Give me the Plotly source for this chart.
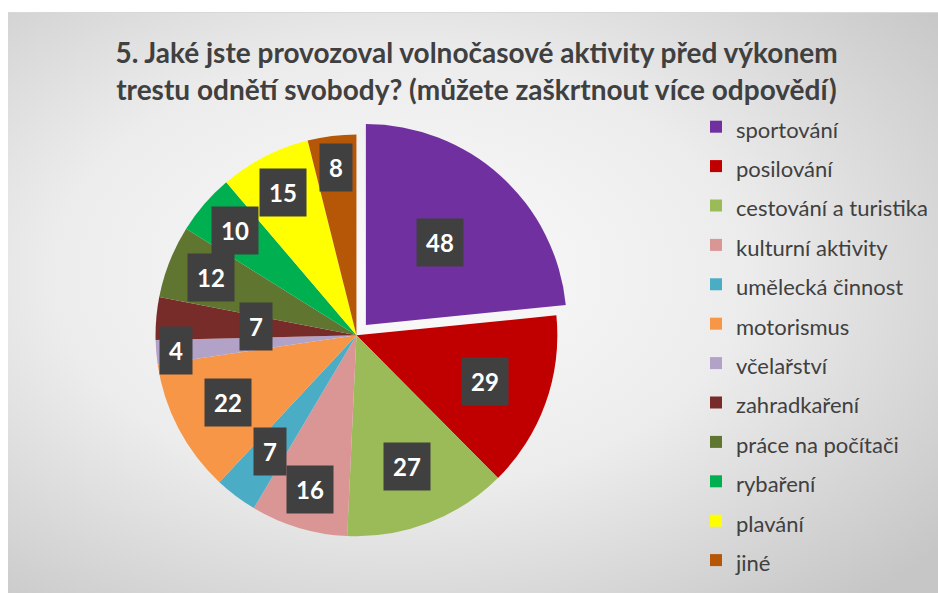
import math
import base64
import plotly.graph_objects as go

# ---------------- data ----------------
categories = [
    "sportování", "posilování", "cestování a turistika", "kulturní aktivity",
    "umělecká činnost", "motorismus", "včelařství", "zahradkaření",
    "práce na počítači", "rybaření", "plavání", "jiné",
]
counts = [48, 29, 27, 16, 7, 22, 4, 7, 12, 10, 15, 8]
title_text = ("5. Jaké jste provozoval volnočasové aktivity před výkonem<br>"
              "trestu odnětí svobody? (můžete zaškrtnout více odpovědí)")

# ---------------- style ----------------
colors = ["#7030A0", "#C00000", "#9BBB59", "#DA9694", "#4BACC6", "#F79646",
          "#B3A2C7", "#772C2A", "#5F7530", "#00B050", "#FFFF00", "#B65708"]
pulls = [0.07] + [0] * (len(counts) - 1)
label_radius = [0.55, 0.68, 0.7, 0.8, 0.72, 0.72, 0.9, 0.5, 0.78, 0.8, 0.8, 0.84]

W, H = 938, 593
dom_x = [0.145, 0.615]
dom_y = [0.072, 0.797]

# background panel with a soft radial gradient
svg = (
    f'<svg xmlns="http://www.w3.org/2000/svg" width="{W}" height="{H}" viewBox="0 0 {W} {H}" '
    f'preserveAspectRatio="none">'
    '<defs><radialGradient id="g" cx="0.42" cy="0.45" r="0.75">'
    '<stop offset="0" stop-color="#fbfbfb"/>'
    '<stop offset="0.5" stop-color="#ececec"/>'
    '<stop offset="1" stop-color="#c6c6c6"/>'
    '</radialGradient></defs>'
    f'<rect x="8" y="12" width="{W - 8}" height="{H - 12}" fill="url(#g)"/>'
    f'<line x1="8" y1="12.5" x2="{W}" y2="12.5" stroke="#d8d8d8" stroke-width="1"/>'
    '</svg>'
)
bg_src = "data:image/svg+xml;base64," + base64.b64encode(svg.encode("utf-8")).decode()

fig = go.Figure()
fig.add_trace(go.Pie(
    labels=[f'<span style="font-size:22px">{c}</span>' for c in categories],
    values=counts,
    sort=False,
    direction="clockwise",
    rotation=0,
    pull=pulls,
    marker=dict(colors=colors, line=dict(width=0)),
    textinfo="none",
    hovertemplate="%{label}: %{value}<extra></extra>",
    domain=dict(x=dom_x, y=dom_y),
))

# value labels: placed at each slice's mid-angle, using the same geometry Plotly uses
box_w = W * (dom_x[1] - dom_x[0])
box_h = H * (dom_y[1] - dom_y[0])
r = min(box_w, box_h) / (2 + 2 * max(pulls))
cx = W * (dom_x[0] + dom_x[1]) / 2
cy = H * (1 - dom_y[0]) - box_h / 2
total = sum(counts)
cum = 0.0
annotations = []
for i, v in enumerate(counts):
    mid = (cum + v / 2) / total * 2 * math.pi
    cum += v
    rr = r * (label_radius[i] + pulls[i])
    px = cx + rr * math.sin(mid)
    py = cy - rr * math.cos(mid)
    annotations.append(dict(
        x=px / W, y=1 - py / H, xref="paper", yref="paper",
        text=f"<b>{v}</b>", showarrow=False,
        font=dict(family="Lato", size=24, color="white"),
        bgcolor="#404040", borderpad=9,
        xanchor="center", yanchor="middle",
    ))

fig.update_layout(
    width=W, height=H,
    margin=dict(l=0, r=0, t=0, b=0),
    paper_bgcolor="white",
    plot_bgcolor="rgba(0,0,0,0)",
    images=[dict(source=bg_src, xref="paper", yref="paper", x=0, y=1,
                 sizex=1, sizey=1, xanchor="left", yanchor="top",
                 sizing="stretch", layer="below")],
    title=dict(
        text=f"<b>{title_text}</b>",
        x=0.508, xanchor="center", y=0.893, yanchor="middle",
        font=dict(family="Lato", size=28, color="#404040"),
    ),
    legend=dict(
        x=0.742, xanchor="left", y=0.828, yanchor="top",
        font=dict(family="Lato", size=28, color="#404040"),
        bgcolor="rgba(0,0,0,0)",
    ),
    annotations=annotations,
    showlegend=True,
)

fig.write_html("out.html", config={"displayModeBar": False},
               post_script="document.body.style.margin='0px';")
